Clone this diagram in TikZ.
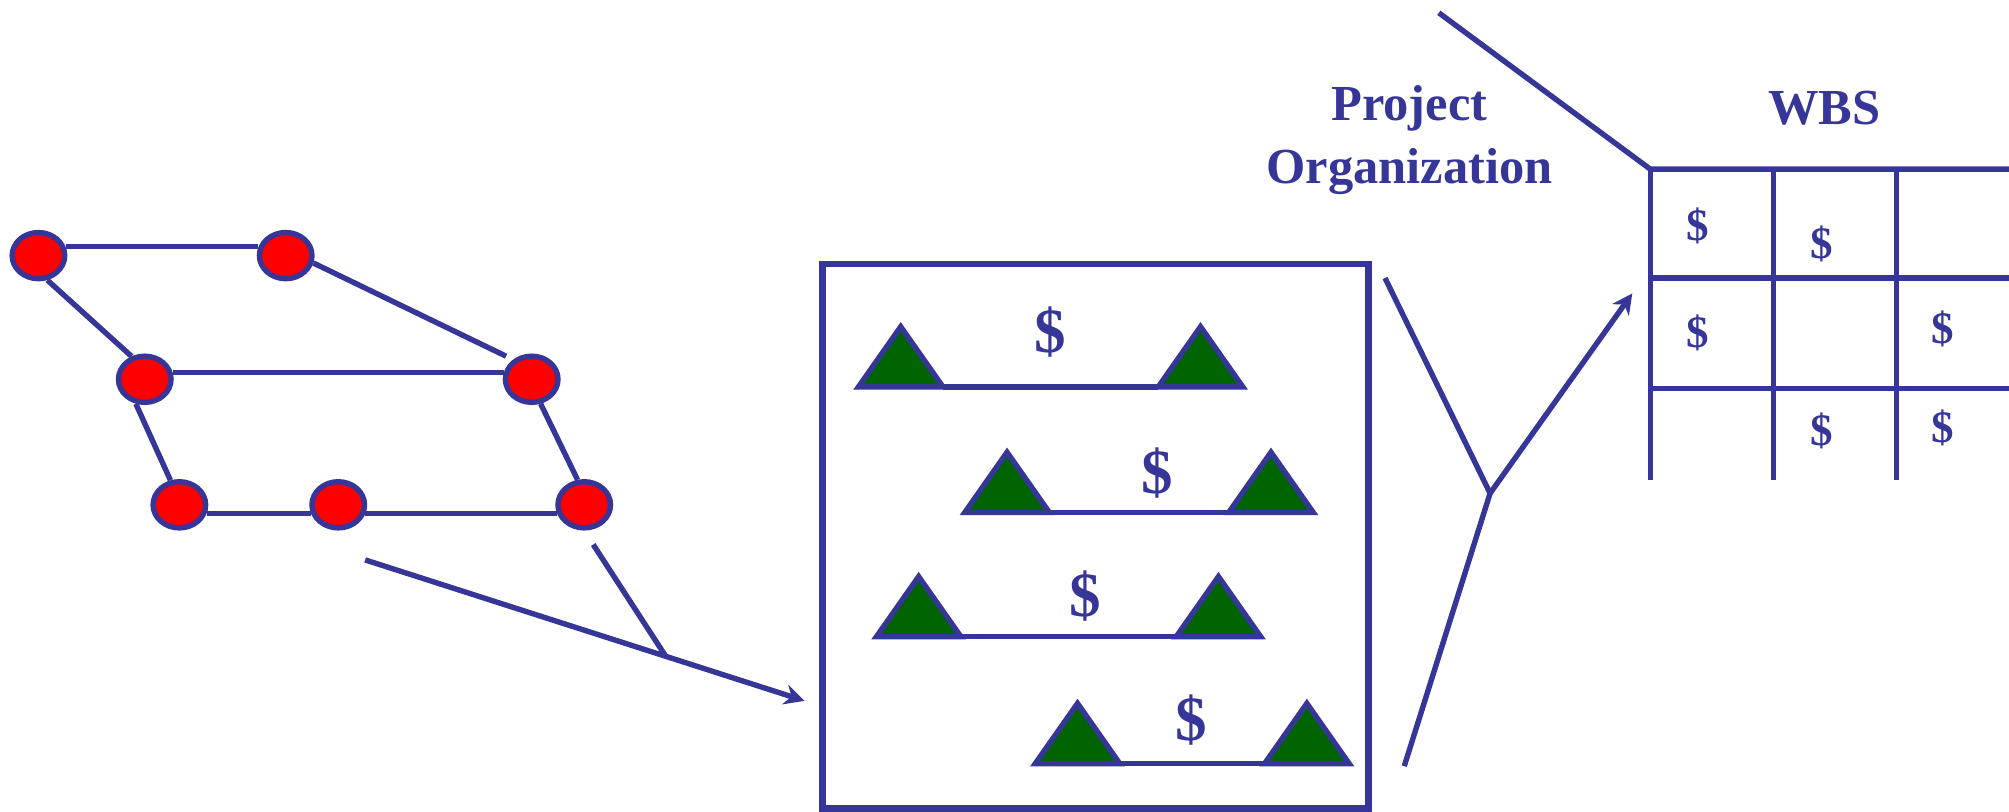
\documentclass[tikz,border=0pt]{standalone}
\usepackage{fontspec}
\setmainfont{Liberation Serif}
\usetikzlibrary{shapes.geometric,arrows.meta,calc}
\definecolor{navy}{RGB}{54,54,153}
\definecolor{leaf}{RGB}{0,100,0}

\begin{document}
\begin{tikzpicture}[
  x=0.01cm, y=-0.01cm,
  every node/.style={text=navy,font=\bfseries},
  vert/.style={ellipse,draw=navy,fill=red,line width=1.2pt,minimum width=0.41cm,minimum height=0.36cm,inner sep=0pt},
  link/.style={draw=navy,line width=1.2pt},
  arr/.style={link,-{Stealth[length=4.5pt,width=4.5pt]}},
  mile/.style={draw=navy,fill=leaf,line width=1.2pt},
  cash/.style={font=\bfseries\fontsize{14}{16}\selectfont,inner sep=0pt},
  cell/.style={font=\bfseries\fontsize{10}{12}\selectfont,inner sep=0pt},
  title/.style={font=\bfseries\fontsize{11.2}{14}\selectfont,align=center,inner sep=0pt}
]
\useasboundingbox (0,0) rectangle (1568,633);

% network
\node[vert] (n1) at (30,199.5) {};
\node[vert] (n2) at (223,199.5) {};
\node[vert] (n3) at (113,296) {};
\node[vert] (n4) at (415,296) {};
\node[vert] (n5) at (140,394) {};
\node[vert] (n6) at (264,394) {};
\node[vert] (n7) at (456,394) {};
\coordinate (gap) at (395,278);
\draw[link] (n1.18) -- (n2.162);
\draw[link] (n1.-70) -- (n3.120);
\draw[link] (n2.-15) -- (gap);
\draw[link] (n3.14) -- (n4.166);
\draw[link] (n3.-110) -- (n5.110);
\draw[link] (n4.-70) -- (n7.105);
\draw[link] (n5.-18) -- (n6.-162);
\draw[link] (n6.-18) -- (n7.-162);

% arrow into the schedule
\coordinate (src) at (285,437);
\coordinate (dst) at (628,547);
\coordinate (tail) at (463,425);
\coordinate (join) at ($(src)!0.684!(dst)$);
\draw[arr] (src) -- (dst);
\draw[link] (tail) -- (join);

% schedule box
\draw[navy,line width=1.5pt] (642,206) rectangle (1068,631);
\foreach \la/\ra/\by/\dx/\dy [count=\i] in
  {703/937/302/820/259, 786/992/400/903/369, 717/951/497/847/465, 841/1020/596/930/562}{
  \draw[mile] (\la-33,\by) -- (\la,\by-47) -- (\la+33,\by) -- cycle;
  \draw[mile] (\ra-33,\by) -- (\ra,\by-47) -- (\ra+33,\by) -- cycle;
  \draw[link] (\la+33,\by) -- (\ra-33,\by);
  \node[cash] (d\i) at (\dx,\dy) {\$};
}

% fork to the WBS
\coordinate (inTop) at (1081,217);
\coordinate (inBot) at (1096,598);
\coordinate (fork) at (1163,385);
\coordinate (outTip) at (1274,229);
\draw[link] (inTop) -- (fork) -- (inBot);
\draw[arr] (fork) -- (outTip);

% labels
\node[title] (org) at (1100,109) {Project\\Organization};
\node[title,anchor=base] (wbs) at (1424,97) {WBS};

% WBS grid
\coordinate (corner) at (1288,132);
\draw[link] (1123,10) -- (corner) -- (1568,132);
\foreach \y in {217,303}
  \draw[link] (1288,\y) -- (1568,\y);
\foreach \x in {1288,1384,1480}
  \draw[link] (\x,132) -- (\x,375);
\foreach \x/\y [count=\i] in {1325/176,1422/190,1325/260,1516/257,1422/336,1516/334}
  \node[cell] (g\i) at (\x,\y) {\$};
\end{tikzpicture}
\end{document}
